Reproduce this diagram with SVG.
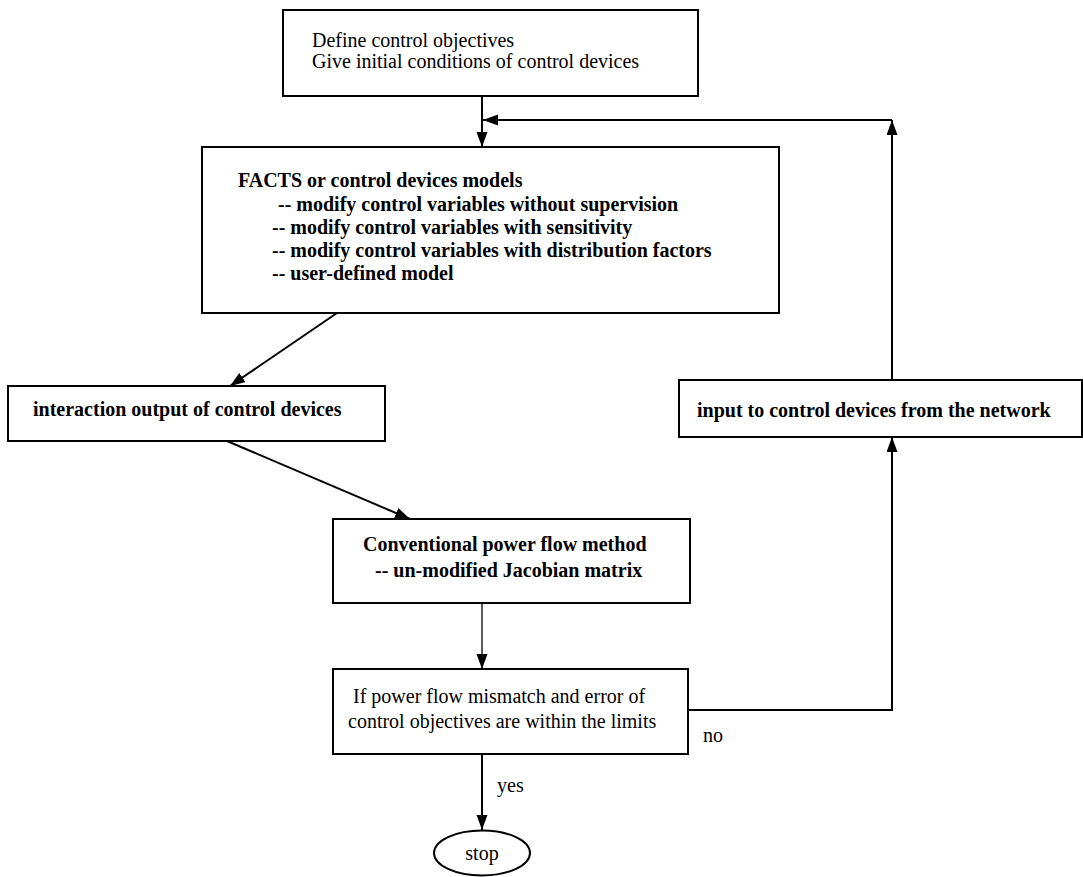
<svg xmlns="http://www.w3.org/2000/svg" width="1083" height="877" viewBox="0 0 1083 877">
  <style>
    .box { fill: #fff; stroke: #000; stroke-width: 2; }
    .wire { fill: none; stroke: #000; stroke-width: 2; }
    .thin { stroke-width: 1.3; }
    text { font-family: "Liberation Serif", "Times New Roman", serif; font-size: 20px; fill: #000; }
    .b { font-weight: bold; }
  </style>
  <defs>
    <marker id="arrow" markerUnits="userSpaceOnUse" markerWidth="16" markerHeight="12" refX="15" refY="5.5" orient="auto">
      <path d="M0,0 L15,5.5 L0,11 z" fill="#000"/>
    </marker>
  </defs>
  <rect width="1083" height="877" fill="#fff"/>

  <g id="connectors">
    <line class="wire" x1="482" y1="96" x2="482" y2="147" marker-end="url(#arrow)"/>
    <line class="wire" x1="892" y1="120" x2="483" y2="120" marker-end="url(#arrow)"/>
    <line class="wire" x1="892" y1="380" x2="892" y2="120" marker-end="url(#arrow)"/>
    <polyline class="wire" points="688,710 892,710 892,437" marker-end="url(#arrow)"/>
    <line class="wire" x1="337" y1="313" x2="230" y2="386" marker-end="url(#arrow)"/>
    <line class="wire" x1="227" y1="441" x2="410" y2="519" marker-end="url(#arrow)"/>
    <line class="wire thin" x1="482" y1="603" x2="482" y2="669" marker-end="url(#arrow)"/>
    <line class="wire" x1="482" y1="754" x2="482" y2="830" marker-end="url(#arrow)"/>
  </g>

  <g id="start">
    <rect class="box" x="283" y="10" width="415" height="86"/>
    <text x="312" y="47">Define control objectives</text>
    <text x="312" y="68">Give initial conditions of control devices</text>
  </g>

  <g id="models">
    <rect class="box" x="202" y="147" width="577" height="166"/>
    <text class="b" x="238" y="187">FACTS or control devices models</text>
    <text class="b" x="278" y="211">-- modify control variables without supervision</text>
    <text class="b" x="272" y="234">-- modify control variables with sensitivity</text>
    <text class="b" x="272" y="257">-- modify control variables with distribution factors</text>
    <text class="b" x="272" y="280">-- user-defined model</text>
  </g>

  <g id="interaction">
    <rect class="box" x="8" y="386" width="377" height="55"/>
    <text class="b" x="33" y="416">interaction output of control devices</text>
  </g>

  <g id="input">
    <rect class="box" x="679" y="380" width="403" height="57"/>
    <text class="b" x="697" y="417">input to control devices from the network</text>
  </g>

  <g id="powerflow">
    <rect class="box" x="333" y="519" width="357" height="84"/>
    <text class="b" x="363" y="551">Conventional power flow method</text>
    <text class="b" x="375" y="577">-- un-modified Jacobian matrix</text>
  </g>

  <g id="check">
    <rect class="box" x="333" y="669" width="355" height="85"/>
    <text x="353" y="703">If power flow mismatch and error of</text>
    <text x="348" y="728">control objectives are within the limits</text>
    <text x="703" y="742">no</text>
    <text x="497" y="792">yes</text>
  </g>

  <g id="stop">
    <ellipse class="box" cx="482" cy="853" rx="48" ry="22.5"/>
    <text x="482" y="860" text-anchor="middle">stop</text>
  </g>
</svg>
